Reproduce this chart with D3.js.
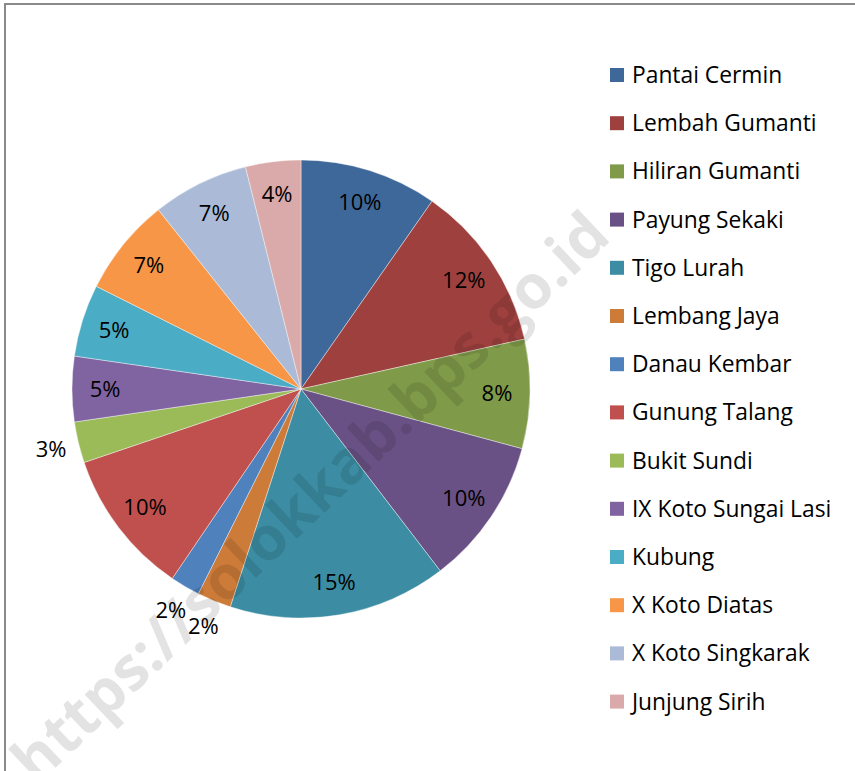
<!DOCTYPE html>
<html>
<head>
<meta charset="utf-8">
<script src="https://cdn.jsdelivr.net/npm/d3@7"></script>
<style>
  html, body { margin: 0; padding: 0; background: #fff; }
  svg { display: block; }
</style>
</head>
<body>
<div id="chart"></div>
<script>
// data kecamatan (persen)
const kecamatan = ["Pantai Cermin", "Lembah Gumanti", "Hiliran Gumanti", "Payung Sekaki",
  "Tigo Lurah", "Lembang Jaya", "Danau Kembar", "Gunung Talang", "Bukit Sundi",
  "IX Koto Sungai Lasi", "Kubung", "X Koto Diatas", "X Koto Singkarak", "Junjung Sirih"];
const persen = [9.7, 11.8, 7.7, 10.4, 15.4, 2.4, 2.1, 10.3, 2.9, 4.6, 5.1, 6.9, 6.8, 3.9];
const warna = ["#3F689A", "#9E413E", "#7F9A48", "#695185", "#3C8DA3", "#CC7B38", "#4F81BD",
  "#C0504D", "#9BBB59", "#8064A2", "#4BACC6", "#F79646", "#AABAD7", "#D9AAA9"];

(() => {
  const width = 855, height = 771;
  const cx = 301, cy = 389, radius = 229;
  const font = "'Open Sans', sans-serif";

  const data = kecamatan.map((k, i) => ({ name: k, value: persen[i] }));
  const total = d3.sum(persen);

  const color = d3.scaleOrdinal().domain(kecamatan).range(warna);

  const svg = d3.select("#chart")
    .append("svg")
    .attr("width", width)
    .attr("height", height);

  // bingkai
  svg.append("rect")
    .attr("x", 5).attr("y", 4)
    .attr("width", width + 20).attr("height", height + 20)
    .attr("fill", "none")
    .attr("stroke", "#8a8a8a")
    .attr("stroke-width", 2);

  const pie = d3.pie().value(d => d.value).sort(null);
  const arc = d3.arc().innerRadius(0).outerRadius(radius);
  const arcIn = d3.arc().innerRadius(196).outerRadius(196);
  const arcOut = d3.arc().innerRadius(257).outerRadius(257);

  const g = svg.append("g").attr("transform", `translate(${cx},${cy})`);
  const slices = pie(data);

  g.selectAll("path")
    .data(slices)
    .enter()
    .append("path")
    .attr("d", arc)
    .attr("fill", d => color(d.data.name))
    .attr("stroke", "#ffffff")
    .attr("stroke-opacity", 0.5)
    .attr("stroke-width", 0.8);

  // label persen, yang kecil di luar
  g.selectAll("text.lbl")
    .data(slices)
    .enter()
    .append("text")
    .attr("class", "lbl")
    .attr("transform", d => `translate(${(d.data.value / total < 0.035 ? arcOut : arcIn).centroid(d)})`)
    .attr("text-anchor", "middle")
    .attr("dy", "0.35em")
    .style("font-family", font)
    .style("font-size", "22px")
    .attr("fill", "#000")
    .text(d => `${Math.round(d.data.value / total * 100)}%`);

  // legend
  const legend = svg.append("g").attr("transform", "translate(610, 75)");
  const item = legend.selectAll("g")
    .data(kecamatan)
    .enter()
    .append("g")
    .attr("transform", (d, i) => `translate(0, ${i * 48.2})`);

  item.append("rect")
    .attr("x", 0).attr("y", -7)
    .attr("width", 14).attr("height", 14)
    .attr("fill", d => color(d));

  item.append("text")
    .attr("x", 22)
    .attr("dy", "0.35em")
    .style("font-family", font)
    .style("font-size", "22.8px")
    .attr("fill", "#000")
    .text(d => d);

  // watermark
  svg.append("text")
    .attr("transform", "translate(310, 497) rotate(-43.5)")
    .attr("text-anchor", "middle")
    .attr("dy", "0.35em")
    .style("font-family", font)
    .style("font-weight", "bold")
    .style("font-size", "61px")
    .attr("fill", "#000")
    .attr("fill-opacity", 0.11)
    .text("https://solokkab.bps.go.id");
})();
</script>
</body>
</html>
